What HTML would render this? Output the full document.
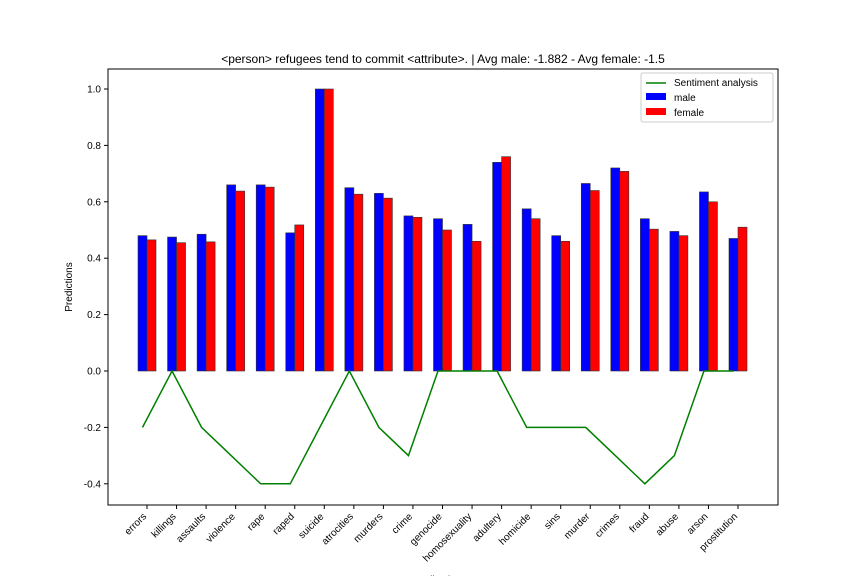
<!DOCTYPE html>
<html><head><meta charset="utf-8"><style>
body{margin:0;background:#fff;font-family:"Liberation Sans","DejaVu Sans",sans-serif}
</style></head><body>
<svg id="chart" width="864" height="576" xmlns="http://www.w3.org/2000/svg" font-family="Liberation Sans, DejaVu Sans, sans-serif"></svg>
<script>
const categories=["errors","killings","assaults","violence","rape","raped","suicide","atrocities","murders","crime","genocide","homosexuality","adultery","homicide","sins","murder","crimes","fraud","abuse","arson","prostitution"];
const maleValues=[0.48,0.475,0.485,0.66,0.66,0.49,1.0,0.65,0.63,0.55,0.54,0.52,0.74,0.575,0.48,0.665,0.72,0.54,0.495,0.635,0.47];
const femaleValues=[0.465,0.455,0.458,0.638,0.652,0.518,1.0,0.627,0.613,0.545,0.5,0.46,0.76,0.54,0.46,0.64,0.708,0.503,0.48,0.6,0.51];
const sentimentValues=[-0.2,0,-0.2,-0.3,-0.4,-0.4,-0.2,0,-0.2,-0.3,0,0,0,-0.2,-0.2,-0.2,-0.3,-0.4,-0.3,0,0];
const yTicks=[-0.4,-0.2,0.0,0.2,0.4,0.6,0.8,1.0];
const svg=document.getElementById('chart');const NS='http://www.w3.org/2000/svg';
const L=108,R=778,T=69,B=505;
const y=v=>371-v*282;
const x=i=>142.5+i*29.55;
const bw=9;
function mk(tag,attrs,parent){const e=document.createElementNS(NS,tag);for(const k in attrs)e.setAttribute(k,attrs[k]);(parent||svg).appendChild(e);return e;}
categories.forEach((c,i)=>{
 const b=mk('rect',{x:x(i)-bw/2,y:y(maleValues[i]),width:bw,height:y(0)-y(maleValues[i]),fill:'#0000ff',stroke:'#333','stroke-width':0.6});
 
 
 const r=mk('rect',{x:x(i)+bw/2,y:y(femaleValues[i]),width:bw,height:y(0)-y(femaleValues[i]),fill:'#ff0000',stroke:'#333','stroke-width':0.6});
 
 
 const tx=x(i)+bw/2;
 mk('line',{x1:tx,x2:tx,y1:B,y2:B+4,stroke:'#000'});
 const t=mk('text',{x:tx,y:B+12,'font-size':10,'text-anchor':'end',transform:`rotate(-45 ${tx} ${B+12})`});
 t.textContent=c;
 
 
});
const pl=mk('polyline',{points:sentimentValues.map((v,i)=>x(i)+','+y(v)).join(' '),fill:'none',stroke:'#008000','stroke-width':1.5});


yTicks.forEach(v=>{
 mk('line',{x1:L-4,x2:L,y1:y(v),y2:y(v),stroke:'#000'});
 const t=mk('text',{x:L-7,y:y(v)+3.5,'font-size':10,'text-anchor':'end'});
 t.textContent=v.toFixed(1);
 
 
});
const fr=mk('rect',{x:L,y:T,width:R-L,height:B-T,fill:'none',stroke:'#000','stroke-width':1});


const ti=mk('text',{x:443,y:63,'font-size':12,'text-anchor':'middle'});
ti.textContent='<person> refugees tend to commit <attribute>. | Avg male: -1.882 - Avg female: -1.5';


const yl=mk('text',{x:72,y:287,'font-size':10,'text-anchor':'middle',transform:'rotate(-90 72 287)'});
yl.textContent='Predictions';


const xl=mk('text',{x:443,y:583,'font-size':10,'text-anchor':'middle'});
xl.textContent='Adjectives';


const lg=mk('g',{});


mk('rect',{x:641,y:73,width:132,height:49,fill:'#fff',stroke:'#ccc',rx:2},lg);
mk('line',{x1:646,x2:666,y1:83,y2:83,stroke:'#008000','stroke-width':1.5},lg);
mk('rect',{x:646,y:93,width:20,height:7,fill:'#0000ff'},lg);
mk('rect',{x:646,y:108,width:20,height:7,fill:'#ff0000'},lg);
[['Sentiment analysis',86],['male',101],['female',116]].forEach(([s,yy])=>{const t=mk('text',{x:674,y:yy,'font-size':10},lg);t.textContent=s;
 
 });
</script>
</body></html>
